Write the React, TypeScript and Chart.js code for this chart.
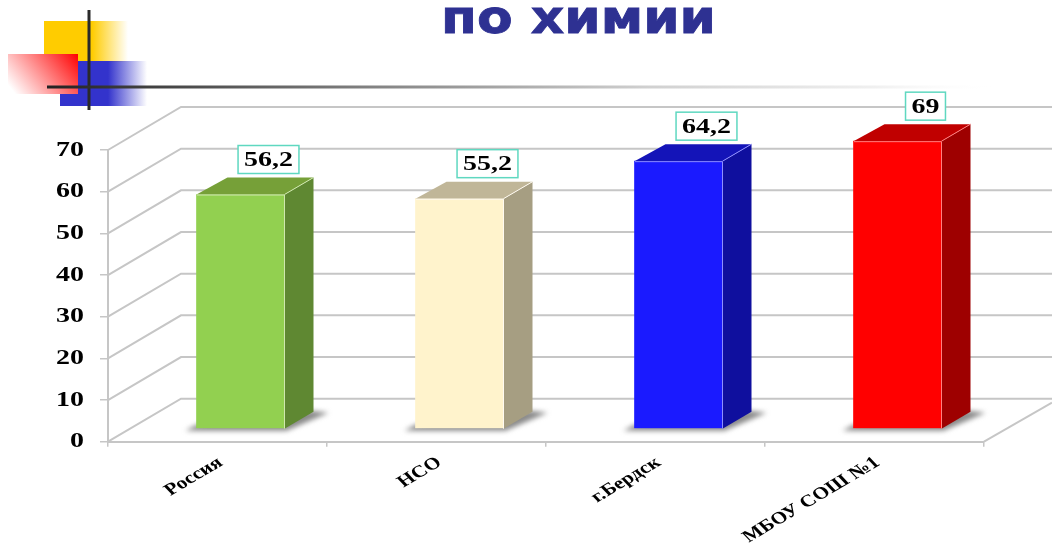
import React, { useEffect, useRef } from "react";
import { Chart, registerables } from "chart.js";

Chart.register(...registerables);

const categories = ["Россия", "НСО", "г.Бердск", "МБОУ СОШ №1"];
const values = [56.2, 55.2, 64.2, 69];
const frontColors = ["#92d050", "#fff3cc", "#1a1aff", "#ff0000"];
const edgeColors = ["#cfe8ae", "#fffaf0", "#8f8fff", "#ff8080"];
const topColors = ["#76a038", "#c0b698", "#1414b8", "#c00000"];
const sideColors = ["#5f8832", "#a69e82", "#0f0f9e", "#9e0000"];
const titleText = "по химии";

const SERIF = '"Liberation Serif", serif';
const GRID = "#c6c6c6";
const WALL_DX = 73;
const WALL_DY = 43;
const BAR_DX = 23;
const BAR_DY = 13;
const DEPTH_X = 29;
const DEPTH_Y = 17;
const TEXT_STRETCH = 1.27;

function hFade(ctx: CanvasRenderingContext2D, x0: number, x1: number, x2: number, rgb: string) {
  const g = ctx.createLinearGradient(x0, 0, x2, 0);
  g.addColorStop(0, `rgb(${rgb})`);
  g.addColorStop((x1 - x0) / (x2 - x0), `rgb(${rgb})`);
  g.addColorStop(1, `rgba(${rgb},0)`);
  return g;
}

// The picture is a horizontally stretched slide: widen all axis and value text in page space.
function stretchText(ctx: any) {
  const orig = CanvasRenderingContext2D.prototype.fillText;
  ctx.fillText = function (text: string, x: number, y: number) {
    const m: DOMMatrix = ctx.getTransform();
    const p = m.transformPoint({ x, y });
    ctx.save();
    ctx.setTransform(new DOMMatrix().translate(p.x, p.y).scale(TEXT_STRETCH, 1).translate(-p.x, -p.y).multiply(m));
    orig.call(ctx, text, x, y);
    ctx.restore();
  };
}

const decorPlugin = {
  id: "decor",
  beforeDraw(chart: any) {
    const ctx: CanvasRenderingContext2D = chart.ctx;
    ctx.save();
    ctx.fillStyle = "#ffffff";
    ctx.fillRect(0, 0, chart.width, chart.height);

    ctx.fillStyle = hFade(ctx, 44, 92, 128, "255,204,0");
    ctx.fillRect(44, 21, 84, 41);
    ctx.fillStyle = hFade(ctx, 60, 108, 147, "51,51,204");
    ctx.fillRect(60, 61, 87, 45);
    const red = ctx.createLinearGradient(78, 54, 20, 100);
    red.addColorStop(0, "rgb(255,0,0)");
    red.addColorStop(1, "rgba(255,255,255,0.95)");
    ctx.fillStyle = "#ffffff";
    ctx.fillRect(8, 54, 70, 40);
    ctx.fillStyle = red;
    ctx.fillRect(8, 54, 70, 40);

    ctx.fillStyle = "#2a2a2a";
    ctx.fillRect(87.5, 10, 3, 100);
    const line = ctx.createLinearGradient(47, 0, 1000, 0);
    line.addColorStop(0, "#222222");
    line.addColorStop(0.37, "#8a8a8a");
    line.addColorStop(0.63, "#d0d0d0");
    line.addColorStop(0.87, "#f0f0f0");
    line.addColorStop(1, "rgba(255,255,255,0)");
    ctx.fillStyle = line;
    ctx.fillRect(47, 85.5, 953, 3);

    ctx.fillStyle = "#2e3192";
    ctx.strokeStyle = "#2e3192";
    ctx.lineWidth = 0.8;
    ctx.font = 'bold 46px "DejaVu Sans", sans-serif';
    ctx.textAlign = "left";
    ctx.textBaseline = "alphabetic";
    ctx.translate(441, 33);
    ctx.scale(1.13, 1);
    ctx.fillText(titleText, 0, 0);
    ctx.strokeText(titleText, 0, 0);
    ctx.restore();

    stretchText(ctx);
  },
  beforeDatasetsDraw(chart: any) {
    const ctx: CanvasRenderingContext2D = chart.ctx;
    const { x, y } = chart.scales;
    ctx.save();
    ctx.strokeStyle = GRID;
    ctx.lineWidth = 2;
    y.ticks.forEach((t: any) => {
      const py = y.getPixelForValue(t.value);
      ctx.beginPath();
      ctx.moveTo(x.left, py);
      ctx.lineTo(x.left + WALL_DX, py - WALL_DY);
      ctx.lineTo(chart.width, py - WALL_DY);
      ctx.stroke();
    });
    ctx.beginPath();
    ctx.moveTo(x.right, y.bottom);
    ctx.lineTo(chart.width, y.bottom - 39);
    ctx.stroke();

    const meta = chart.getDatasetMeta(0);
    meta.data.forEach((bar: any) => {
      const l = bar.x - bar.width / 2 + BAR_DX;
      const r = bar.x + bar.width / 2 + BAR_DX;
      const b = y.bottom - BAR_DY;
      ctx.save();
      ctx.filter = "blur(2.5px)";
      ctx.fillStyle = "#8a8a8a";
      ctx.beginPath();
      ctx.moveTo(l - 11, b + 2);
      ctx.lineTo(r + 2, b + 2);
      ctx.lineTo(r + DEPTH_X + 15, b - DEPTH_Y + 1);
      ctx.lineTo(r + DEPTH_X - 2, b - DEPTH_Y - 1);
      ctx.lineTo(l, b - 4);
      ctx.closePath();
      ctx.fill();
      ctx.restore();
    });
    ctx.restore();
  },
  beforeDatasetDraw(chart: any) {
    chart.ctx.save();
    chart.ctx.translate(BAR_DX, -BAR_DY);
  },
  afterDatasetDraw(chart: any) {
    chart.ctx.restore();
  },
  afterDatasetsDraw(chart: any) {
    const ctx: CanvasRenderingContext2D = chart.ctx;
    const { y } = chart.scales;
    const meta = chart.getDatasetMeta(0);
    ctx.save();
    meta.data.forEach((bar: any, i: number) => {
      const l = bar.x - bar.width / 2 + BAR_DX;
      const r = bar.x + bar.width / 2 + BAR_DX;
      const t = bar.y - BAR_DY;
      const b = y.bottom - BAR_DY;
      ctx.fillStyle = sideColors[i];
      ctx.beginPath();
      ctx.moveTo(r, t);
      ctx.lineTo(r + DEPTH_X, t - DEPTH_Y);
      ctx.lineTo(r + DEPTH_X, b - DEPTH_Y);
      ctx.lineTo(r, b);
      ctx.closePath();
      ctx.fill();
      ctx.fillStyle = topColors[i];
      ctx.beginPath();
      ctx.moveTo(l, t);
      ctx.lineTo(l + DEPTH_X + 2, t - DEPTH_Y);
      ctx.lineTo(r + DEPTH_X, t - DEPTH_Y);
      ctx.lineTo(r, t);
      ctx.closePath();
      ctx.fill();
      ctx.strokeStyle = edgeColors[i];
      ctx.lineWidth = 1;
      ctx.beginPath();
      ctx.moveTo(l + 0.5, t + 0.5);
      ctx.lineTo(r, t + 0.5);
      ctx.lineTo(r, b);
      ctx.moveTo(r, t);
      ctx.lineTo(r + DEPTH_X, t - DEPTH_Y);
      ctx.stroke();

      const cx = (l + r) / 2 + 28;
      const cy = t - 35;
      const text = String(values[i]).replace(".", ",");
      ctx.font = `bold 22px ${SERIF}`;
      const bw = ctx.measureText(text).width * TEXT_STRETCH + 12;
      ctx.fillStyle = "#ffffff";
      ctx.strokeStyle = "#5fd8c0";
      ctx.lineWidth = 1.5;
      ctx.fillRect(cx - bw / 2, cy - 14, bw, 28);
      ctx.strokeRect(cx - bw / 2, cy - 14, bw, 28);
      ctx.fillStyle = "#000000";
      ctx.textAlign = "center";
      ctx.textBaseline = "middle";
      ctx.fillText(text, cx, cy + 1);
    });
    ctx.restore();
  },
  afterDraw(chart: any) {
    delete (chart.ctx as any).fillText;
  },
};

export default function App() {
  const ref = useRef<HTMLCanvasElement | null>(null);
  useEffect(() => {
    if (!ref.current) return;
    const chart = new Chart(ref.current, {
      type: "bar",
      data: {
        labels: categories,
        datasets: [
          {
            data: values,
            backgroundColor: frontColors,
            borderWidth: 0,
            barThickness: 88,
          },
        ],
      },
      options: {
        animation: false,
        responsive: false,
        layout: { padding: { top: 150, right: 68, left: 0, bottom: 0 } },
        plugins: { legend: { display: false }, title: { display: false }, tooltip: { enabled: false } },
        scales: {
          x: {
            afterFit(s: any) {
              s.height = 103.3;
              s.paddingLeft = 0;
              s.paddingRight = 0;
            },
            grid: { drawOnChartArea: false, color: GRID, tickLength: 5, lineWidth: 1.5 },
            border: { color: GRID, width: 2 },
            ticks: {
              color: "#000000",
              font: { family: SERIF, size: 17, weight: "bold" },
              minRotation: 37,
              maxRotation: 37,
              padding: 6,
              labelOffset: 3,
              autoSkip: false,
            },
          },
          y: {
            min: 0,
            max: 70,
            afterFit(s: any) {
              s.width = 108;
              s.paddingTop = 0;
              s.paddingBottom = 0;
            },
            grid: { drawOnChartArea: false, color: GRID, tickLength: 8, lineWidth: 1.5 },
            border: { color: GRID, width: 2 },
            ticks: {
              stepSize: 10,
              color: "#000000",
              font: { family: SERIF, size: 22, weight: "bold" },
              padding: 16,
            },
          },
        },
      },
      plugins: [decorPlugin],
    } as any);
    return () => chart.destroy();
  }, []);
  return (
    <canvas
      ref={ref}
      width={1052}
      height={545}
      style={{ position: "absolute", left: 0, top: 0, width: 1052, height: 545, filter: "blur(0.4px)" }}
    />
  );
}
